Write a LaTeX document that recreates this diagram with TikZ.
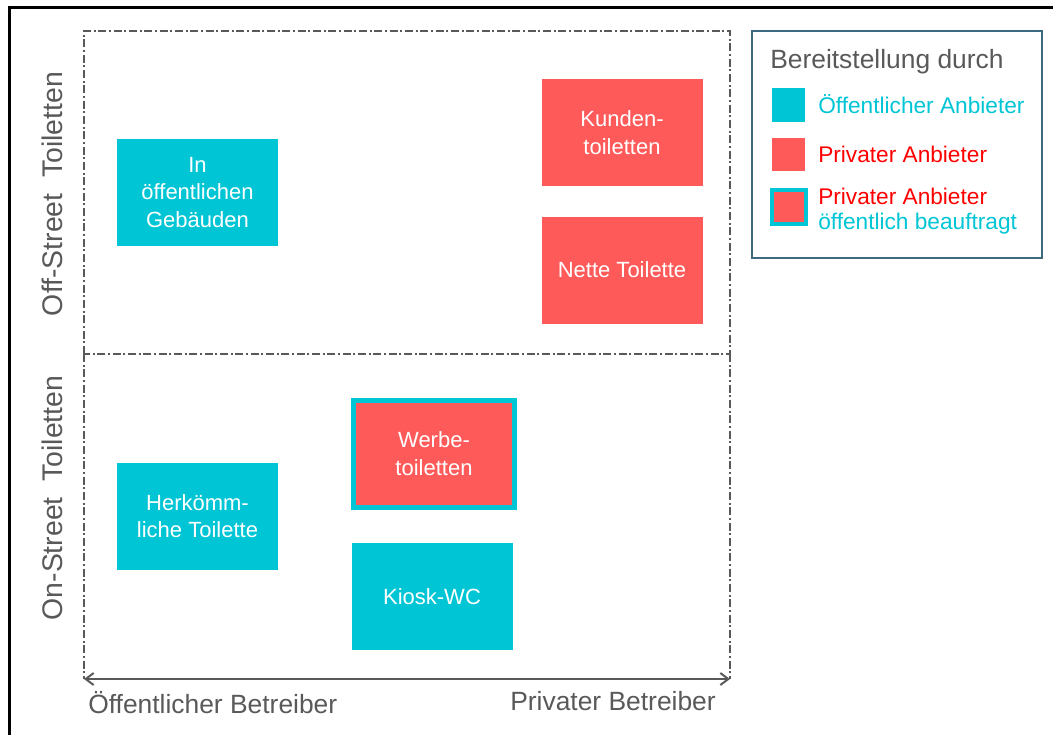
\documentclass[tikz,border=0pt]{standalone}
\usepackage{fontspec}
\setmainfont{Liberation Sans}
\usetikzlibrary{arrows.meta}
\definecolor{tuerkis}{HTML}{00C5D5}
\definecolor{lachs}{HTML}{FF5A5A}
\definecolor{grau}{HTML}{595959}
\definecolor{rahmen}{HTML}{3E6A80}
\definecolor{rot}{HTML}{FF0000}
\begin{document}
\begin{tikzpicture}[x=0.75pt,y=-0.75pt,
				kasten/.style={minimum width=120.75pt,minimum height=80.25pt,inner sep=0pt,
					align=center,text=white,font=\fontsize{16.5}{20.6}\selectfont},
				oeff/.style={kasten,fill=tuerkis},
				priv/.style={kasten,fill=lachs},
				beauftragt/.style={kasten,fill=lachs,draw=tuerkis,line width=3.75pt},
				feld/.style={draw=grau,line width=1.4pt,dash pattern=on 6pt off 2pt on 1.5pt off 2pt},
				achse/.style={text=grau,inner sep=0pt,font=\fontsize{19.8}{24}\selectfont},
				seite/.style={achse,rotate=90,font=\fontsize{21.3}{24}\selectfont},
				muster/.style={minimum size=24.75pt,inner sep=0pt},
				eintrag/.style={anchor=west,inner sep=0pt,align=left,font=\fontsize{17}{21}\selectfont}]
\useasboundingbox (0,0) rectangle (1053,735);
\draw[line width=2.25pt] (9,735) -- (9,8) -- (1053,8);

\coordinate (olinks) at (84,31);
\coordinate (orechts) at (730,31);
\coordinate (mlinks) at (84,354);
\coordinate (mrechts) at (730,354);
\coordinate (ulinks) at (84,679);
\coordinate (urechts) at (730,679);

\draw[feld] (mlinks) -- (olinks) -- (orechts) -- (mrechts) -- cycle;
\draw[feld] (mlinks) -- (ulinks);
\draw[feld] (mrechts) -- (urechts);
\draw[grau,line width=1.5pt,{Straight Barb[length=6pt,width=9pt]}-{Straight Barb[length=6pt,width=9pt]}] (ulinks) -- (urechts);

\node[seite] (offstreet) at (52,194) {Off-Street\ \ Toiletten};
\node[seite] (onstreet) at (52,498) {On-Street\ \ Toiletten};
\node[achse,anchor=west] (oeffbetr) at (88,703) {Öffentlicher Betreiber};
\node[achse,anchor=east] (privbetr) at (716,701) {Privater Betreiber};

\node[oeff] (gebaeude) at (197.5,192.5) {In\\öffentlichen\\Gebäuden};
\node[priv] (kunden) at (622,132.5) {Kunden-\\toiletten};
\node[priv] (nette) at (622,270) {Nette Toilette};
\node[beauftragt] (werbe) at (434,453.5) {Werbe-\\toiletten};
\node[oeff] (herkoemmlich) at (197.5,516) {Herkömm-\\liche Toilette};
\node[oeff] (kiosk) at (432,596.5) {Kiosk-WC};

\draw[rahmen,line width=1.5pt] (752,31) rectangle (1042,258);
\node[achse,anchor=west] (titel) at (770,62) {Bereitstellung durch};
\node[muster,fill=tuerkis] (m1) at (788.5,105) {};
\node[muster,fill=lachs] (m2) at (788.5,154) {};
\node[muster,fill=lachs,draw=tuerkis,line width=3pt,minimum size=25.5pt] (m3) at (789,206.5) {};
\node[eintrag,text=tuerkis] (e1) at (818,104) {Öffentlicher Anbieter};
\node[eintrag,text=rot] (e2) at (818,154) {Privater Anbieter};
\node[eintrag,text=rot] (e3) at (818,196) {Privater Anbieter};
\node[eintrag,text=tuerkis] (e4) at (818,224) {öffentlich beauftragt};
\end{tikzpicture}
\end{document}
